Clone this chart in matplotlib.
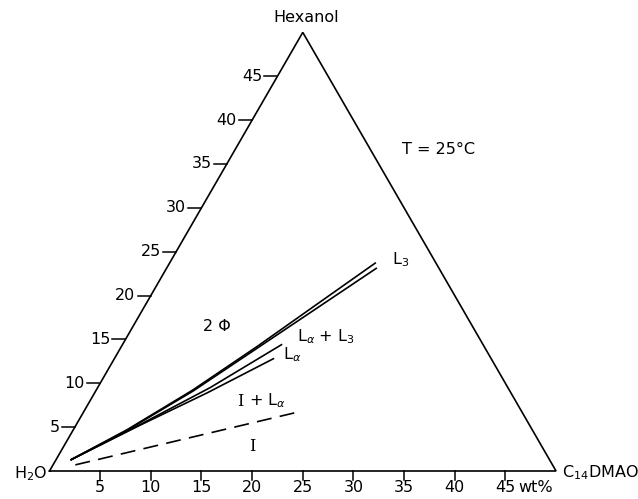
import numpy as np
import matplotlib
matplotlib.use('Agg')
import matplotlib.pyplot as plt

plt.rcParams['font.family'] = 'DejaVu Sans'
plt.rcParams['mathtext.fontset'] = 'dejavusans'

# compositions in wt% : (C14DMAO, hexanol), rest is water
ticks = [5, 10, 15, 20, 25, 30, 35, 40, 45]

# L3 phase boundaries
l3_upper_s = [1.5, 5.3, 9.5, 13.4, 17.1, 20.3]
l3_upper_h = [1.3, 4.7, 9.2, 14.2, 19.3, 23.7]
l3_lower_s = [1.5, 5.3, 9.6, 13.5, 17.3, 20.7]
l3_lower_h = [1.3, 4.6, 9.1, 14.0, 18.8, 23.1]

# L-alpha phase boundaries
la_upper_s = [1.5, 6.3, 11.1, 15.7]
la_upper_h = [1.3, 5.3, 9.5, 14.4]
la_lower_s = [1.5, 6.3, 11.1, 15.7]
la_lower_h = [1.3, 5.2, 8.9, 12.8]

# micellar (I) boundary
mic_s = [2.2, 21.1]
mic_h = [0.7, 6.7]

H = np.sqrt(3) / 2


def tern(s, h):
    s = np.asarray(s, dtype=float)
    h = np.asarray(h, dtype=float)
    return s + h / 2, h * H


fig = plt.figure(figsize=(6.38, 4.99), dpi=100)
ax = fig.add_axes([0, 0, 1, 1])
ax.set_xlim(-4.886, 58.09)
ax.set_ylim(-2.764, 46.5)
ax.axis('off')

# triangle frame
fx, fy = tern([0, 50, 0, 0], [0, 0, 50, 0])
ax.plot(fx, fy, color='black', lw=1.2, solid_joinstyle='miter')

fs = 11.5
# bottom axis ticks
for t in ticks:
    x, y = tern(t, 0)
    ax.plot([x, x], [y, y - 0.9], color='black', lw=1.1)
    ax.text(x, y - 1.6, str(t), ha='center', va='center', fontsize=fs)
ax.text(46.3, -1.6, 'wt%', ha='left', va='center', fontsize=fs)

# left axis ticks
for t in ticks:
    x, y = tern(0, t)
    ax.plot([x - 1.3, x], [y, y], color='black', lw=1.1)
    ax.text(x - 1.5, y, str(t), ha='right', va='center', fontsize=fs)

# boundaries
for s, h in [(l3_upper_s, l3_upper_h), (l3_lower_s, l3_lower_h),
             (la_upper_s, la_upper_h), (la_lower_s, la_lower_h)]:
    x, y = tern(s, h)
    ax.plot(x, y, color='black', lw=1.2, solid_joinstyle='round')
x, y = tern(mic_s, mic_h)
ax.plot(x, y, color='black', lw=1.2, dashes=(9, 5))

# labels
ax.text(25.3, 44.8, 'Hexanol', ha='center', va='center', fontsize=fs)
ax.text(-0.25, -0.25, 'H$_2$O', ha='right', va='center', fontsize=fs)
ax.text(50.6, -0.2, 'C$_{14}$DMAO', ha='left', va='center', fontsize=fs)
ax.text(38.35, 31.7, 'T = 25°C', ha='center', va='center', fontsize=fs)
ax.text(33.8, 20.9, 'L$_3$', ha='left', va='center', fontsize=fs)
ax.text(16.5, 14.25, '2 Φ', ha='center', va='center', fontsize=fs)
ax.text(24.4, 13.3, r'L$_\alpha$ + L$_3$', ha='left', va='center', fontsize=fs)
ax.text(23.0, 11.5, r'L$_\alpha$', ha='left', va='center', fontsize=fs)
ax.text(18.5, 6.9, 'I', ha='left', va='center', fontsize=fs, family='DejaVu Serif')
ax.text(19.7, 6.9, r'+ L$_\alpha$', ha='left', va='center', fontsize=fs)
ax.text(20.06, 2.37, 'I', ha='center', va='center', fontsize=fs, family='DejaVu Serif')

fig.savefig('out.png', dpi=100)
